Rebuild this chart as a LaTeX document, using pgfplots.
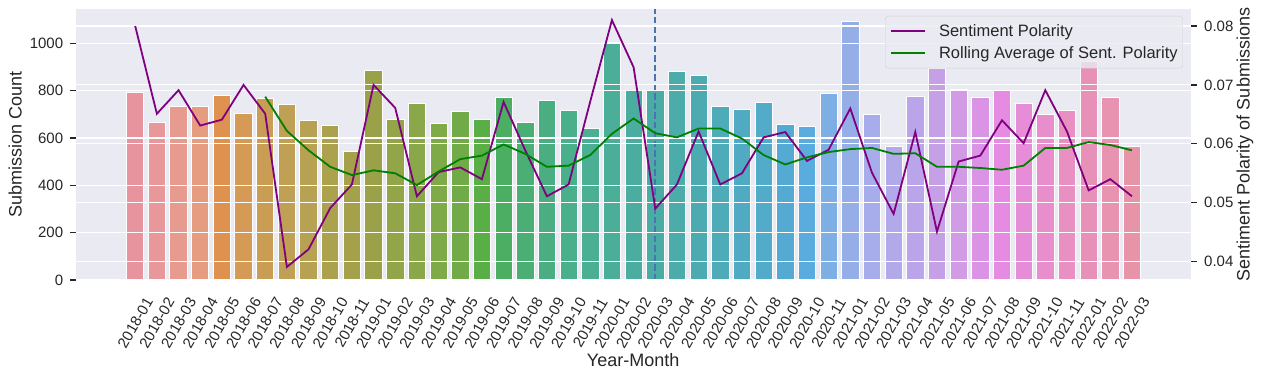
\documentclass[border=0pt]{standalone}
\usepackage{pgfplots}
\usepackage{pgfplotstable}
\usepackage{fontspec}
\setmainfont{Liberation Sans}
\pgfplotsset{compat=1.18}
\definecolor{seabornbg}{HTML}{EAEAF2}
\definecolor{textgray}{HTML}{262626}
\definecolor{mplpurple}{HTML}{800080}
\definecolor{mplgreen}{HTML}{008000}
\definecolor{sbblue}{HTML}{4C72B0}
\definecolor{bc0}{HTML}{E8949F}
\definecolor{bc1}{HTML}{E8979A}
\definecolor{bc2}{HTML}{E79A8E}
\definecolor{bc3}{HTML}{E59C80}
\definecolor{bc4}{HTML}{DF924F}
\definecolor{bc5}{HTML}{D59A56}
\definecolor{bc6}{HTML}{CA9D55}
\definecolor{bc7}{HTML}{C0A055}
\definecolor{bc8}{HTML}{B7A152}
\definecolor{bc9}{HTML}{ACA14D}
\definecolor{bc10}{HTML}{A4A14A}
\definecolor{bc11}{HTML}{9AA148}
\definecolor{bc12}{HTML}{93A549}
\definecolor{bc13}{HTML}{8AA849}
\definecolor{bc14}{HTML}{7EAA48}
\definecolor{bc15}{HTML}{70AB47}
\definecolor{bc16}{HTML}{5AAE46}
\definecolor{bc17}{HTML}{4BAE63}
\definecolor{bc18}{HTML}{4AAE75}
\definecolor{bc19}{HTML}{4AAE82}
\definecolor{bc20}{HTML}{4AAF8B}
\definecolor{bc21}{HTML}{4AAF93}
\definecolor{bc22}{HTML}{4AAE99}
\definecolor{bc23}{HTML}{4AAD9F}
\definecolor{bc24}{HTML}{4AACA4}
\definecolor{bc25}{HTML}{4BACAA}
\definecolor{bc26}{HTML}{4CABB0}
\definecolor{bc27}{HTML}{4EABB8}
\definecolor{bc28}{HTML}{50ABC2}
\definecolor{bc29}{HTML}{53ABCA}
\definecolor{bc30}{HTML}{55AAD3}
\definecolor{bc31}{HTML}{5AABDE}
\definecolor{bc32}{HTML}{7DAEE4}
\definecolor{bc33}{HTML}{96AEE7}
\definecolor{bc34}{HTML}{A6ADEA}
\definecolor{bc35}{HTML}{B1A9EA}
\definecolor{bc36}{HTML}{BBA5EA}
\definecolor{bc37}{HTML}{C6A0E7}
\definecolor{bc38}{HTML}{D19BE6}
\definecolor{bc39}{HTML}{DB94E5}
\definecolor{bc40}{HTML}{E58CE2}
\definecolor{bc41}{HTML}{E78DD7}
\definecolor{bc42}{HTML}{E88ECC}
\definecolor{bc43}{HTML}{E890C1}
\definecolor{bc44}{HTML}{E891B8}
\definecolor{bc45}{HTML}{E893AF}
\definecolor{bc46}{HTML}{E894A8}

\pgfplotstableread{
idx count pol roll
0 791 0.0800 nan
1 665 0.0651 nan
2 732 0.0691 nan
3 732 0.0631 nan
4 779 0.0641 nan
5 703 0.0700 nan
6 766 0.0651 0.0680
7 741 0.0391 0.0622
8 673 0.0421 0.0589
9 652 0.0491 0.0561
10 542 0.0531 0.0547
11 884 0.0700 0.0555
12 677 0.0661 0.0550
13 745 0.0511 0.0530
14 660 0.0552 0.0553
15 711 0.0560 0.0574
16 679 0.0540 0.0580
17 772 0.0671 0.0599
18 665 0.0589 0.0583
19 759 0.0511 0.0561
20 717 0.0531 0.0563
21 641 0.0672 0.0581
22 1003 0.0810 0.0617
23 801 0.0730 0.0643
24 801 0.0490 0.0618
25 882 0.0531 0.0611
26 863 0.0621 0.0626
27 734 0.0531 0.0626
28 721 0.0550 0.0609
29 751 0.0611 0.0581
30 658 0.0620 0.0565
31 649 0.0571 0.0577
32 789 0.0590 0.0586
33 1092 0.0660 0.0591
34 700 0.0551 0.0593
35 565 0.0481 0.0583
36 775 0.0620 0.0584
37 895 0.0451 0.0561
38 804 0.0570 0.0561
39 772 0.0580 0.0559
40 800 0.0640 0.0556
41 745 0.0601 0.0563
42 700 0.0691 0.0593
43 717 0.0621 0.0593
44 925 0.0521 0.0603
45 770 0.0540 0.0598
46 563 0.0511 0.0589
}\datatable

\begin{document}
\begin{tikzpicture}
\pgfplotsset{
  common/.style={
    at={(0pt,0pt)}, anchor=south west,
    scale only axis, width=1115pt, height=271pt,
    xmin=-2.746, xmax=48.709,
    axis line style={draw=none},
    tick align=outside, major tick length=6pt,
    tick style={color=textgray, line width=1.2pt},
    tick label style={font=\fontsize{15}{18}\selectfont, color=textgray},
    /pgf/number format/assume math mode=true,
    scaled y ticks=false, scaled x ticks=false,
    grid style={white, line width=1.1pt},
    ymajorgrids, xmajorgrids=false,
  },
}
\begin{axis}[common,
  axis on top,
  axis background/.style={fill=seabornbg},
  ymin=0, ymax=1145.1,
  ytick={0,200,400,600,800,1000},
  yticklabels={0,200,400,600,800,1000},
  ytick pos=left,
  yticklabel style={anchor=east, xshift=-3pt},
  xtick={0,...,46},
  xticklabels={2018-01,2018-02,2018-03,2018-04,2018-05,2018-06,2018-07,2018-08,2018-09,2018-10,2018-11,
    2019-01,2019-02,2019-03,2019-04,2019-05,2019-06,2019-07,2019-08,2019-09,2019-10,2019-11,
    2020-01,2020-02,2020-03,2020-04,2020-05,2020-06,2020-07,2020-08,2020-09,2020-10,2020-11,
    2021-01,2021-02,2021-03,2021-04,2021-05,2021-06,2021-07,2021-08,2021-09,2021-10,2021-11,
    2022-01,2022-02,2022-03},
  xtick style={draw=none},
  xticklabel style={yshift=-37pt, rotate=60, anchor=center},
  xlabel={Year-Month},
  ylabel={Submission Count},
  every axis x label/.style={at={(axis description cs:0.5,-0.321)}, anchor=base,
    font=\fontsize{18}{21}\selectfont, text=textgray},
  every axis y label/.style={at={(axis description cs:-0.04839,0.5)}, rotate=90, anchor=base,
    font=\fontsize{18}{21}\selectfont, text=textgray},
]
\pgfplotsinvokeforeach{0,...,46}{
  \addplot[ybar, bar width=0.8, bar shift=0pt, fill=bc#1, draw=white, line width=0.8pt,
    restrict x to domain=#1:#1, forget plot] table[x=idx, y=count] {\datatable};
}
\addplot[sbblue, line width=2.2pt, dash pattern=on 6.5pt off 3pt, forget plot] coordinates {(24,0) (24,1145.1)};
\end{axis}
\begin{axis}[common,
  ymin=0.036889, ymax=0.082885,
  ytick={0.04,0.05,0.06,0.07,0.08},
  yticklabels={0.04,0.05,0.06,0.07,0.08},
  ytick pos=right,
  yticklabel style={anchor=west, xshift=4pt},
  xtick=\empty,
  ylabel={Sentiment Polarity of Submissions},
  every axis y label/.style={at={(axis description cs:1.0529,0.5)}, rotate=90, anchor=base,
    font=\fontsize{18}{21}\selectfont, text=textgray},
  legend cell align=left,
  legend image code/.code={\draw[#1] (0pt,0pt) -- (34pt,0pt);},
  legend style={at={(axis description cs:0.99309,0.97417)}, anchor=north east,
    fill=seabornbg, fill opacity=0.8, draw opacity=1, text opacity=1,
    draw=black!18, rounded corners=3pt,
    font=\fontsize{16.5}{19}\selectfont, text=textgray,
    inner xsep=5pt, inner ysep=3.5pt,
    nodes={inner xsep=0pt, inner ysep=4.5pt},
    /tikz/every odd column/.append style={column sep=13pt}},
]
\addplot[mplpurple, line width=1.8pt] table[x=idx, y=pol] {\datatable};
\addlegendentry{Sentiment Polarity}
\addplot[mplgreen, line width=1.8pt] table[x=idx, y=roll] {\datatable};
\addlegendentry{Rolling Average of Sent. Polarity}
\end{axis}
\pgfresetboundingbox
\useasboundingbox (-75.7pt,-98pt) rectangle (1185.3pt,280pt);
\end{tikzpicture}
\end{document}
